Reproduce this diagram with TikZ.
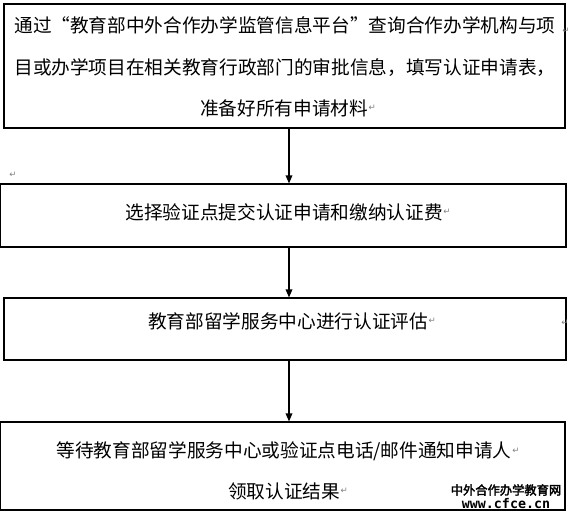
\documentclass[tikz,border=0pt]{standalone}
\usepackage{fontspec}
\setmainfont{Noto Sans CJK SC}
\newfontfamily\pmfont{DejaVu Sans}
\newfontfamily\wmmono{DejaVu Sans Mono}
\newfontfamily\wmcjk[FakeBold=2.5]{Noto Sans CJK SC}
\usetikzlibrary{arrows.meta,fit}
\begin{document}
\begin{tikzpicture}[x=0.75pt,y=-0.75pt,
  boxnode/.style={draw, line width=0.9pt, rectangle, inner sep=0pt},
  txt/.style={inner sep=0pt, font=\fontsize{14pt}{14pt}\selectfont},
  pm/.style={inner sep=0pt, font=\pmfont\fontsize{6.5pt}{6.5pt}\selectfont, text=gray},
  arr/.style={line width=0.9pt, -{Triangle[length=6pt,width=5pt]}},
  wm/.style={inner sep=0pt}
]
\useasboundingbox (0,0) rectangle (568,518);
% boxes
\node[boxnode, fit={(4,4) (565,128)}] (b1) {};
\node[boxnode, fit={(0.6,184) (566,247)}] (b2) {};
\node[boxnode, fit={(4,298) (566,360)}] (b3) {};
\node[boxnode, fit={(0.6,422) (565,510)}] (b4) {};
\coordinate (ax) at (289,0);
% connectors
\draw[arr] (b1.south -| ax) -- (b2.north -| ax);
\draw[arr] (b2.south -| ax) -- (b3.north -| ax);
\draw[arr] (b3.south -| ax) -- (b4.north -| ax);
% texts
\node[txt] (t1a) at (285,25) {通过\makebox[1em][r]{“}教育部中外合作办学监管信息平台\makebox[1em][l]{”}查询合作办学机构与项};
\node[txt] (t1b) at (285,68) {目或办学项目在相关教育行政部门的审批信息，填写认证申请表，};
\node[txt] (t1c) at (284,108) {准备好所有申请材料};
\node[txt] (t2) at (284,212) {选择验证点提交认证申请和缴纳认证费};
\node[txt] (t3) at (288,321) {教育部留学服务中心进行认证评估};
\node[txt] (t4a) at (284,451) {等待教育部留学服务中心或验证点电话/邮件通知申请人};
\node[txt] (t4b) at (284,491) {领取认证结果};
% paragraph marks
\node[pm] (p1) at (566,31) {↵};
\node[pm] (p2) at ([xshift=3pt]t1c.east) {↵};
\node[pm] (p3) at (13,175) {↵};
\node[pm] (p4) at ([xshift=3pt]t2.east) {↵};
\node[pm] (p5) at ([xshift=3pt]t3.east) {↵};
\node[pm] (p6) at (565,323) {↵};
\node[pm] (p7) at ([xshift=3pt]t4a.east) {↵};
\node[pm] (p8) at ([xshift=3pt]t4b.east) {↵};
% watermark
\node[wm, font=\wmcjk\fontsize{9.2pt}{9.2pt}\selectfont] (w1) at (506,490) {中外合作办学教育网};
\node[wm, font=\wmmono\bfseries\fontsize{10pt}{10pt}\selectfont] (w2) at (506,504) {www.cfce.cn};
\end{tikzpicture}
\end{document}
